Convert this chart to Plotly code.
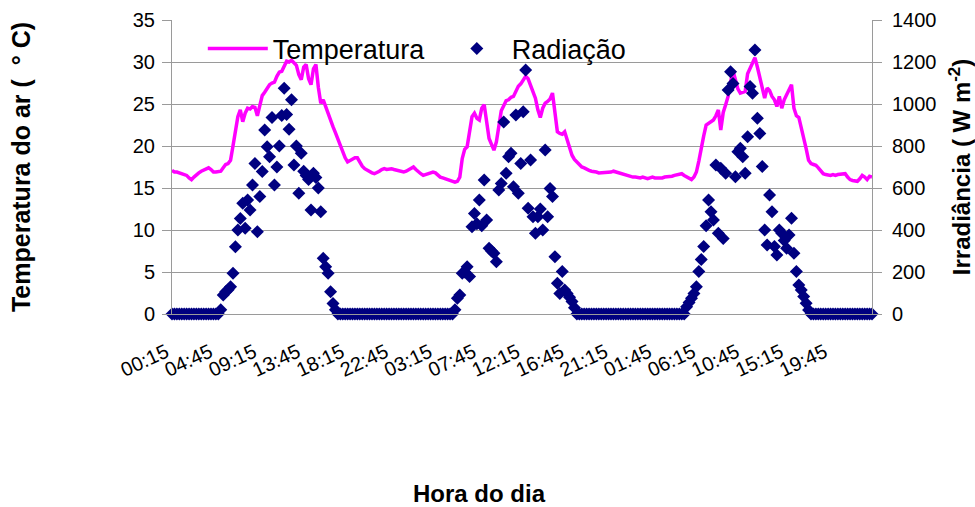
import plotly.graph_objects as go

# ---------------- data ----------------
# 15-minute categories over three days, starting 00:15
categories = []
for k in range(288):
    m = (15 + 15 * k) % (24 * 60)
    categories.append(f"{m // 60:02d}:{m % 60:02d}")

tick_labels = ["00:15", "04:45", "09:15", "13:45", "18:15", "22:45", "03:15", "07:45",
               "12:15", "16:45", "21:15", "01:45", "06:15", "10:45", "15:15", "19:45"]
tick_index = [i * 18 for i in range(len(tick_labels))]

temp_day1 = [
    17.1, 16.9, 16.9, 16.8, 16.7, 16.6, 16.5, 16.2, 16.0, 16.3,
    16.6, 16.8, 17.0, 17.1, 17.3, 17.4, 17.2, 16.9, 16.9, 17.0,
    17.0, 17.4, 17.8, 17.9, 18.3, 20.0, 22.0, 23.5, 24.3, 22.9,
    23.9, 24.5, 24.4, 24.7, 24.6, 23.6, 24.8, 26.0, 26.4, 26.8,
    27.3, 27.5, 27.6, 28.3, 28.8, 28.9, 29.6, 30.1, 30.0, 30.2,
    29.9, 29.6, 28.5, 27.9, 29.4, 29.7, 28.0, 27.3, 29.2, 29.7,
    27.0, 25.1, 25.5, 24.7, 23.8, 22.8, 22.3, 21.6, 20.8, 20.0,
    19.2, 18.6, 18.1, 18.3, 18.5, 18.6, 18.6, 18.0, 17.6, 17.3,
    17.1, 16.9, 16.8, 16.7, 16.8, 17.0, 17.2, 17.3, 17.2, 17.3,
    17.3, 17.2, 17.1, 17.0, 16.9, 16.9]
temp_day2 = [
    17.0, 17.2, 17.4, 17.5, 17.2, 16.9, 16.7, 16.5, 16.6, 16.8,
    16.9, 16.9, 16.8, 16.5, 16.3, 16.2, 16.1, 16.0, 16.0, 15.8,
    15.7, 15.8, 16.3, 18.5, 19.6, 19.9, 21.5, 23.5, 23.9, 23.3,
    23.1, 24.5, 24.9, 23.2, 20.9, 20.2, 19.5, 20.5, 22.5, 24.2,
    24.8, 25.4, 25.5, 25.8, 25.9, 26.5, 27.1, 27.4, 27.9, 28.3,
    28.0, 27.2, 26.4, 25.7, 24.3, 23.4, 24.5, 25.1, 25.3, 25.6,
    26.3, 24.0, 21.7, 21.5, 21.4, 21.7, 20.8, 19.6, 18.9, 18.4,
    18.1, 17.8, 17.5, 17.4, 17.2, 17.1, 17.0, 17.0, 16.9, 16.8,
    16.8, 16.9, 16.8, 16.9, 16.9, 17.0, 16.9, 16.9, 16.8, 16.7,
    16.6, 16.5, 16.4, 16.3, 16.3, 16.2]
temp_day3 = [
    16.2, 16.3, 16.2, 16.1, 16.2, 16.3, 16.2, 16.2, 16.1, 16.2,
    16.3, 16.3, 16.3, 16.4, 16.5, 16.6, 16.7, 16.7, 16.5, 16.3,
    16.1, 16.0, 16.3, 16.9, 18.2, 19.9, 21.2, 22.5, 22.7, 22.9,
    23.1, 23.6, 24.3, 21.9, 24.0, 24.9, 25.9, 27.6, 29.0, 27.9,
    26.8, 26.3, 26.4, 26.5, 28.6, 29.2, 30.0, 30.5, 29.4, 28.0,
    27.1, 25.7, 26.9, 26.6, 25.9, 25.5, 24.7, 25.9, 24.5, 25.5,
    26.1, 26.8, 27.3, 24.5, 23.6, 23.4, 22.3, 21.1, 19.7, 18.3,
    17.9, 17.8, 17.7, 17.4, 17.0, 16.7, 16.6, 16.5, 16.5, 16.6,
    16.5, 16.6, 16.6, 16.7, 16.7, 16.3, 16.0, 15.9, 15.8, 15.8,
    16.1, 16.5, 16.3, 16.0, 16.4, 16.3]

rad_day1 = [0] * 20 + [
    20, 90, 106, 115, 130, 194, 320, 400, 455, 527,
    408, 543, 495, 614, 717, 392, 559, 678, 876, 797,
    749, 936, 614, 700, 800, 945, 1075, 950, 880, 1020,
    710, 800, 575, 765, 680, 660, 640, 495, 670, 650,
    600, 487, 265, 225, 194, 106, 50, 20] + [0] * 28
rad_day2 = [0] * 20 + [
    20, 75, 90, 194, 200, 225, 178, 416, 479, 430,
    543, 420, 638, 448, 313, 300, 289, 249, 590, 622,
    914, 670, 749, 765, 606, 948, 575, 717, 963, 1162,
    503, 733, 463, 384, 463, 500, 400, 781, 463, 598,
    559, 273, 146, 98, 202, 114, 98, 80, 60, 30] + [0] * 26
rad_day3 = [0] * 19 + [
    35, 55, 75, 98, 130, 202, 260, 321, 420, 543,
    487, 448, 709, 384, 694, 360, 670, 1067, 1154, 1098,
    654, 773, 789, 749, 670, 844, 1083, 1051, 1257, 932,
    860, 702, 400, 329, 567, 487, 321, 281, 400, 384,
    350, 313, 376, 456, 289, 202, 138, 114, 83, 51,
    19] + [0] * 26

temperatura = temp_day1 + temp_day2 + temp_day3
radiacao = rad_day1 + rad_day2 + rad_day3
idx = list(range(len(categories)))

# ---------------- figure ----------------
FONT = "Arial, Liberation Sans, sans-serif"
GRID = "#9a9a9a"
NB = "\u00a0"

fig = go.Figure()
fig.add_trace(go.Scatter(
    x=idx, y=temperatura, mode="lines", name="Temperatura",
    line=dict(color="#FF00FF", width=3.5), text=categories,
    hovertemplate="%{text}: %{y} °C<extra></extra>", cliponaxis=False))
fig.add_trace(go.Scatter(
    x=idx, y=radiacao, mode="markers", name="Radiação", yaxis="y2",
    marker=dict(symbol="diamond", size=10, color="#000080"), text=categories,
    hovertemplate="%{text}: %{y} W m⁻²<extra></extra>", cliponaxis=False))

# white box behind the legend (under data, over gridlines)
fig.add_shape(type="rect", xref="paper", yref="paper",
              x0=0.036, x1=0.657, y0=0.80, y1=0.965,
              fillcolor="white", line=dict(width=0), layer="between")

fig.update_layout(
    width=975, height=507,
    margin=dict(l=172, r=103, t=20, b=193, autoexpand=False),
    paper_bgcolor="white", plot_bgcolor="white",
    font=dict(family=FONT, color="black", size=20),
    showlegend=True,
    legend=dict(orientation="h", x=0.044, y=0.985, xanchor="left", yanchor="top",
                font=dict(size=27, family=FONT), bgcolor="rgba(0,0,0,0)",
                itemwidth=60, entrywidth=164, tracegroupgap=0),
    xaxis=dict(range=[0, len(idx) - 1], tickmode="array", tickvals=tick_index,
               ticktext=tick_labels, tickangle=-25, showgrid=False, zeroline=False,
               showline=True, linecolor=GRID, linewidth=1, ticks="",
               ticklabelstandoff=18, ticklabelshift=-6, automargin=False,
               tickfont=dict(size=20)),
    yaxis=dict(range=[0, 35], dtick=5, showgrid=True, gridcolor=GRID, gridwidth=1,
               zeroline=False, showline=True, linecolor=GRID, ticks="outside",
               ticklen=9, tickcolor=GRID, tickfont=dict(size=20), ticklabelstandoff=3,
               automargin=False,
               title=dict(text=f"<b>Temperatura do ar ({NB}{NB}°{NB}C)</b>",
                          font=dict(size=25), standoff=95)),
    yaxis2=dict(range=[0, 1400], dtick=200, overlaying="y", side="right",
                showgrid=False, zeroline=False, showline=True, linecolor=GRID,
                ticks="outside", ticklen=9, tickcolor=GRID, tickfont=dict(size=20),
                ticklabelstandoff=6, automargin=False,
                title=dict(text="<b>Irradiância ( W m<sup>-2</sup>)</b>",
                           font=dict(size=24), standoff=34)),
    annotations=[dict(text="<b>Hora do dia</b>", xref="paper", yref="paper",
                      x=(479 - 172) / 700, y=-(493 - 314) / 294,
                      xanchor="center", yanchor="middle", showarrow=False,
                      font=dict(size=24, family=FONT))],
)

fig.write_html("out.html")
